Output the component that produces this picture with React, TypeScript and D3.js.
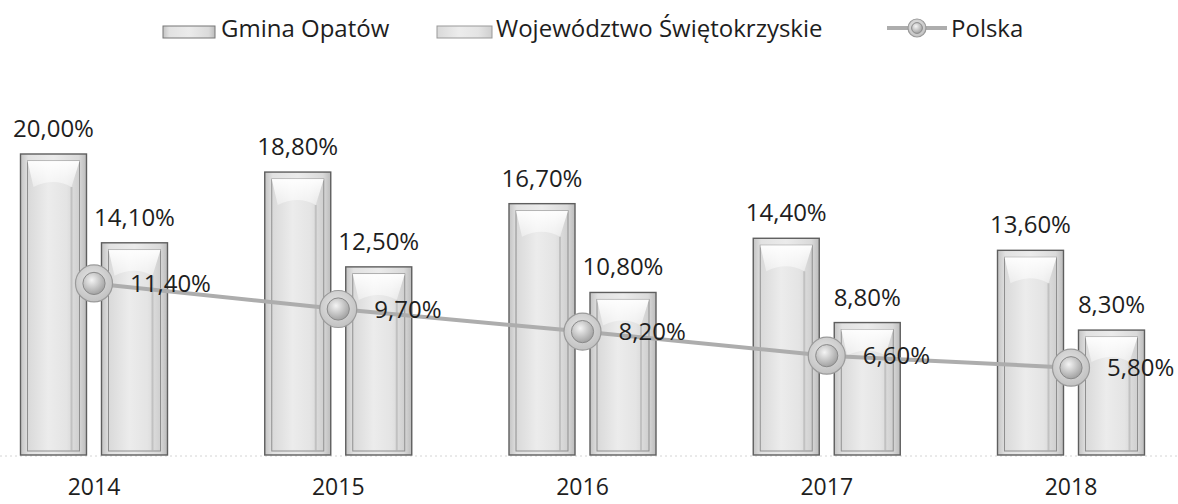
import React from "react";
import * as d3 from "d3";

const years = ["2014", "2015", "2016", "2017", "2018"];
const gmina = [20.0, 18.8, 16.7, 14.4, 13.6];
const wojewodztwo = [14.1, 12.5, 10.8, 8.8, 8.3];
const polska = [11.4, 9.7, 8.2, 6.6, 5.8];
const seriesNames = ["Gmina Opatów", "Województwo Świętokrzyskie", "Polska"];

const W = 1178;
const H = 504;
const FONT = "'Open Sans', 'DejaVu Sans', sans-serif";
const TEXT = "#1e1e1e";

const fmt = (v: number) => v.toFixed(2).replace(".", ",") + "%";

function Bar({ x, y, w, h }: { x: number; y: number; w: number; h: number }) {
  const ins = 7;
  const bevel = Math.min(26, Math.max(10, h * 0.2));
  return (
    <g>
      <rect x={x} y={y} width={w} height={h} fill="url(#barOuter)" stroke="#5e5e5e" strokeWidth={1.4} />
      <rect
        x={x + ins}
        y={y + ins}
        width={w - ins * 2}
        height={Math.max(0, h - ins - 4)}
        fill="url(#barInner)"
        stroke="#8e8e8e"
        strokeWidth={1}
      />
      <path
        d={`M${x + ins},${y + ins} L${x + w - ins},${y + ins} L${x + w - ins - 8},${y + ins + bevel} Q${x + w / 2},${y + ins + bevel - 10} ${x + ins + 6},${y + ins + bevel} Z`}
        fill="url(#bevel)"
      />
      <line x1={x + w - ins - 8} y1={y + ins + bevel} x2={x + w - ins - 8} y2={y + h - 4} stroke="#b0b0b0" strokeWidth={2} opacity={0.6} />
    </g>
  );
}

function Marker({ cx, cy, r }: { cx: number; cy: number; r: number }) {
  return (
    <g>
      <circle cx={cx} cy={cy} r={r} fill="url(#ring)" stroke="#9a9a9a" strokeWidth={1.2} />
      <circle cx={cx} cy={cy} r={r * 0.6} fill="url(#ball)" stroke="#8a8a8a" strokeWidth={1} />
    </g>
  );
}

export default function App() {
  const x = d3.scalePoint<string>().domain(years).range([94, 1071]);
  const y = d3.scaleLinear().domain([0, 20]).range([455, 154]);
  const barW = 66;
  const gap = 15;
  const base = y(0);

  const line = d3
    .line<number>()
    .x((_, i) => x(years[i]) as number)
    .y((d) => y(d));

  return (
    <svg
      width={W}
      height={H}
      style={{ position: "absolute", left: 0, top: 0, background: "#fff" }}
      fontFamily={FONT}
    >
      <defs>
        <linearGradient id="barOuter" x1="0" x2="1" y1="0" y2="0">
          <stop offset="0" stopColor="#c4c4c4" />
          <stop offset="0.12" stopColor="#e2e2e2" />
          <stop offset="0.5" stopColor="#ebebeb" />
          <stop offset="0.88" stopColor="#dadada" />
          <stop offset="1" stopColor="#bcbcbc" />
        </linearGradient>
        <linearGradient id="barInner" x1="0" x2="1" y1="0" y2="0">
          <stop offset="0" stopColor="#d9d9d9" />
          <stop offset="0.4" stopColor="#ececec" />
          <stop offset="0.75" stopColor="#e4e4e4" />
          <stop offset="1" stopColor="#cfcfcf" />
        </linearGradient>
        <linearGradient id="bevel" x1="0" x2="0" y1="0" y2="1">
          <stop offset="0" stopColor="#ffffff" stopOpacity={0.95} />
          <stop offset="1" stopColor="#ffffff" stopOpacity={0.4} />
        </linearGradient>
        <radialGradient id="ring" cx="0.45" cy="0.4" r="0.6">
          <stop offset="0" stopColor="#e6e6e6" />
          <stop offset="1" stopColor="#c2c2c2" />
        </radialGradient>
        <radialGradient id="ball" cx="0.4" cy="0.35" r="0.7">
          <stop offset="0" stopColor="#f4f4f4" />
          <stop offset="0.5" stopColor="#c8c8c8" />
          <stop offset="1" stopColor="#9c9c9c" />
        </radialGradient>
      </defs>

      {/* Legend */}
      <g>
        <rect x={163} y={26} width={52} height={12} fill="url(#barOuter)" stroke="#777" strokeWidth={1} />
        <text x={221} y={37} fontSize={24} fill={TEXT}>{seriesNames[0]}</text>
        <rect x={437} y={26} width={55} height={12} fill="url(#barInner)" stroke="#999" strokeWidth={1} />
        <text x={496} y={37} fontSize={24} fill={TEXT}>{seriesNames[1]}</text>
        <line x1={887} y1={28} x2={947} y2={28} stroke="#adadad" strokeWidth={4} />
        <Marker cx={917} cy={28} r={9} />
        <text x={951} y={37} fontSize={24} fill={TEXT}>{seriesNames[2]}</text>
      </g>

      {/* Baseline */}
      <line x1={0} x2={W} y1={base + 1} y2={base + 1} stroke="#d4d4d4" strokeWidth={1} strokeDasharray="2 3" />

      {/* Bars */}
      {years.map((yr, i) => {
        const c = x(yr) as number;
        const g = gmina[i];
        const wv = wojewodztwo[i];
        return (
          <g key={"b" + yr}>
            <Bar x={c - gap / 2 - barW} y={y(g)} w={barW} h={base - y(g)} />
            <Bar x={c + gap / 2} y={y(wv)} w={barW} h={base - y(wv)} />
            <text x={c - gap / 2 - barW / 2} y={y(g) - 17} fontSize={24} textAnchor="middle" fill={TEXT}>
              {fmt(g)}
            </text>
            <text x={c + gap / 2 + barW / 2} y={y(wv) - 17} fontSize={24} textAnchor="middle" fill={TEXT}>
              {fmt(wv)}
            </text>
          </g>
        );
      })}

      {/* Polska line */}
      <path d={line(polska) || ""} fill="none" stroke="#adadad" strokeWidth={4} />
      {years.map((yr, i) => (
        <g key={"p" + yr}>
          <Marker cx={x(yr) as number} cy={y(polska[i])} r={18.5} />
          <text x={(x(yr) as number) + 36} y={y(polska[i]) + 8.5} fontSize={24} fill={TEXT}>
            {fmt(polska[i])}
          </text>
        </g>
      ))}

      {/* Category labels */}
      {years.map((yr) => (
        <text key={"t" + yr} x={x(yr) as number} y={495} fontSize={23} textAnchor="middle" fill={TEXT}>
          {yr}
        </text>
      ))}
    </svg>
  );
}
